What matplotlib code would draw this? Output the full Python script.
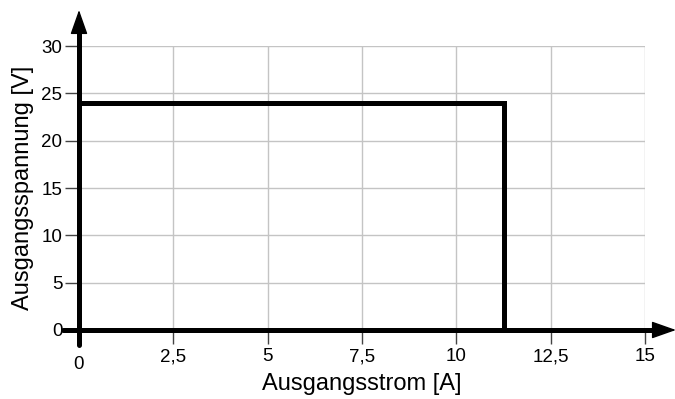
"""Ausgangskennlinie: Spannung ueber Strom (Rechteckkennlinie)."""
import matplotlib
matplotlib.use("Agg")
import matplotlib.pyplot as plt
import matplotlib.transforms as mtransforms

plt.rcParams["font.family"] = ["Liberation Sans", "DejaVu Sans"]

# Kennlinie
strom_a = [0, 11.25, 11.25]
spannung_v = [24, 24, 0]

x_ticks = [0, 2.5, 5, 7.5, 10, 12.5, 15]
x_tick_labels = ["0", "2,5", "5", "7,5", "10", "12,5", "15"]
y_ticks = [0, 5, 10, 15, 20, 25, 30]
y_tick_labels = ["0", "5", "10", "15", "20", "25", "30"]

fig = plt.figure(figsize=(6.75, 3.99), dpi=100)
ax = fig.add_axes([79 / 675, 69 / 399, 566 / 675, 284 / 399])
ax.set_xlim(0, 15)
ax.set_ylim(0, 30)

for s in ax.spines.values():
    s.set_visible(False)

ax.set_xticks(x_ticks)
ax.set_xticklabels(x_tick_labels)
ax.set_yticks(y_ticks)
ax.set_yticklabels(y_tick_labels)
ax.tick_params(axis="both", labelsize=13.5, colors="#444444", labelcolor="black",
               length=10, width=1)
ax.tick_params(axis="x", pad=3)
ax.tick_params(axis="y", pad=2)
ax.grid(True, color="#c4c4c4", lw=1)
ax.set_axisbelow(True)

# "0" unter der verlaengerten y-Achse etwas tiefer
lbl0 = ax.get_xticklabels()[0]
lbl0.set_transform(lbl0.get_transform()
                   + mtransforms.ScaledTranslation(0, -6 / 72, fig.dpi_scale_trans))

# Achsen mit Pfeilen
black = "black"
head = "-|>,head_length=0.85,head_width=0.3"
ax.plot([-0.43, 15.4], [0, 0], color=black, lw=3.6, clip_on=False,
        solid_capstyle="round", zorder=4)
ax.plot([0, 0], [-1.6, 32], color=black, lw=3.6, clip_on=False,
        solid_capstyle="round", zorder=4)
ax.annotate("", xy=(15.82, 0), xytext=(15.2, 0), annotation_clip=False,
            arrowprops=dict(arrowstyle=head, color=black, lw=1, mutation_scale=18,
                            shrinkA=0, shrinkB=0),
            zorder=5)
ax.annotate("", xy=(0, 33.8), xytext=(0, 31), annotation_clip=False,
            arrowprops=dict(arrowstyle=head, color=black, lw=1, mutation_scale=18,
                            shrinkA=0, shrinkB=0),
            zorder=5)

ax.plot(strom_a, spannung_v, color=black, lw=3.6, solid_joinstyle="miter",
        clip_on=False, zorder=6)

ax.set_xlabel("Ausgangsstrom [A]", fontsize=17, labelpad=0)
ax.set_ylabel("Ausgangsspannung [V]", fontsize=17, labelpad=5)

fig.savefig("out.png", dpi=100)
